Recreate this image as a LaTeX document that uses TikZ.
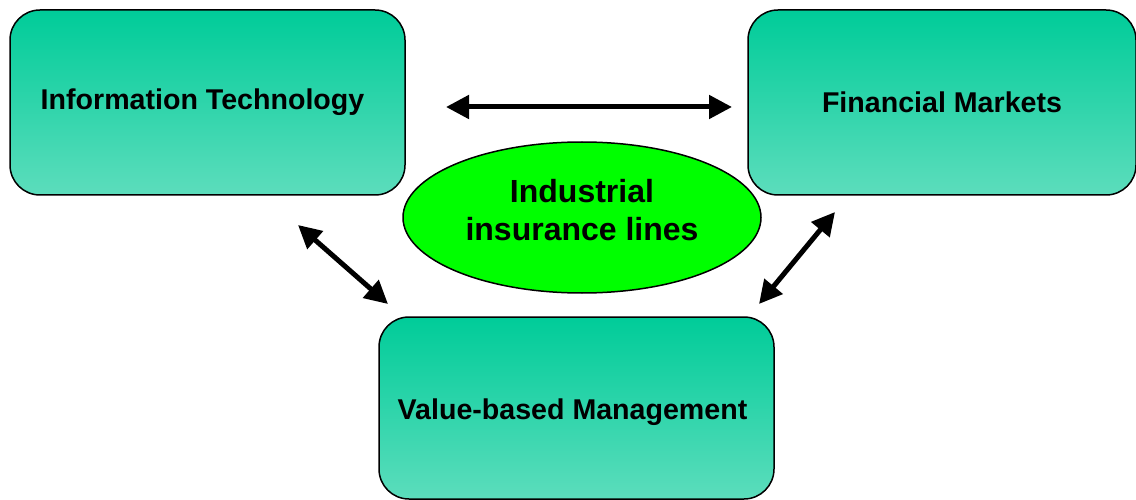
\documentclass[tikz,border=0pt]{standalone}
\usepackage{fontspec}
\setmainfont{Liberation Sans}
\usepackage{tikz}
\usetikzlibrary{arrows.meta,shapes.geometric,positioning}
\definecolor{boxtop}   {RGB}{  0, 204, 153}
\definecolor{boxbottom}{RGB}{ 92, 221, 188}
\definecolor{coregreen}{RGB}{  0, 255,   0}

\begin{document}
\begin{tikzpicture}[
  x=1pt,y=-1pt,
  every node/.style={font=\fontsize{28.6}{32}\selectfont\bfseries},
  area/.style={draw=black,line width=1.5pt,rounded corners=30pt,
               top color=boxtop,bottom color=boxbottom,
               minimum width=395pt,minimum height=185pt,align=center},
  core/.style={ellipse,draw=black,line width=1.5pt,fill=coregreen,
               minimum width=358pt,minimum height=151pt,inner sep=0pt,align=center,
               text depth=15pt,
               font=\fontsize{32}{38}\selectfont\bfseries},
  arr/.style={{Triangle[length=23pt,width=23pt]}-{Triangle[length=23pt,width=23pt]},
              line width=5pt,black},
]
\useasboundingbox (0,0) rectangle (1136,500);

%% ── Surrounding areas ───────────────────────────────────────────────────
\node[area] (it) at (207.5,102.5) {Information Technology\hspace*{10pt}};
\node[area,minimum width=388pt] (fm) at (942,102.5) {Financial Markets};
\node[area,minimum height=182pt,text height=30pt] (vbm) at (576.5,408)
  {Value-based Management\hspace*{8pt}};

%% ── Central topic ───────────────────────────────────────────────────────
\node[core] (iil) at (582,217.5) {Industrial\\insurance lines};

%% ── Arrow end points ────────────────────────────────────────────────────
\coordinate (itR)  at (446,107);
\coordinate (fmL)  at (732,107);
\coordinate (itB)  at (298,225);
\coordinate (vbmL) at (388,304);
\coordinate (fmB)  at (835,212);
\coordinate (vbmR) at (759,304);

%% ── Connections ─────────────────────────────────────────────────────────
\draw[arr] (itR) -- (fmL);
\draw[arr] (itB) -- (vbmL);
\draw[arr] (fmB) -- (vbmR);

\end{tikzpicture}
\end{document}
